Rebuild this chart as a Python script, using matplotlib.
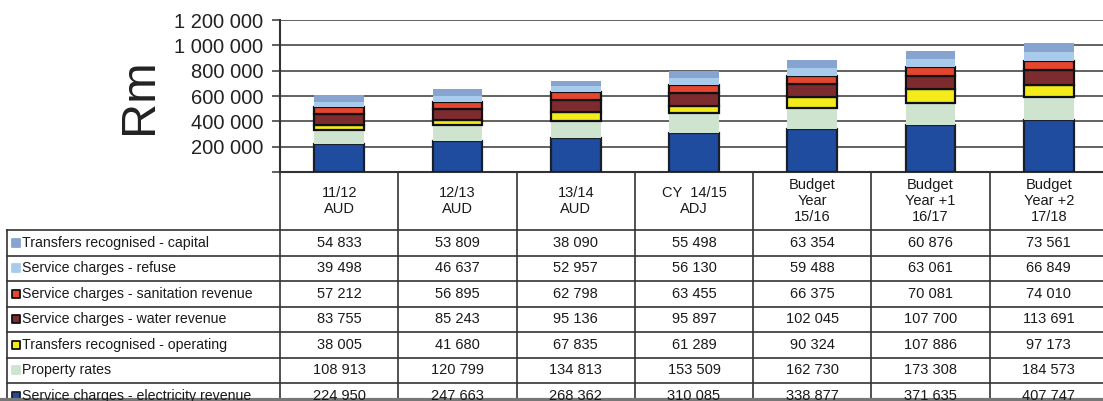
import numpy as np
import matplotlib
matplotlib.use('Agg')
from matplotlib import pyplot as plt

plt.rcParams['font.family'] = ['Liberation Sans', 'DejaVu Sans']

# Column headings (years)
years = ['11/12\nAUD', '12/13\nAUD', '13/14\nAUD', 'CY  14/15\nADJ',
         'Budget\nYear\n15/16', 'Budget\nYear +1\n16/17', 'Budget\nYear +2\n17/18']

# Series, bottom of the stack first
electricity = [224950, 247663, 268362, 310085, 338877, 371635, 407747]
property_rates = [108913, 120799, 134813, 153509, 162730, 173308, 184573]
transfers_operating = [38005, 41680, 67835, 61289, 90324, 107886, 97173]
water = [83755, 85243, 95136, 95897, 102045, 107700, 113691]
sanitation = [57212, 56895, 62798, 63455, 66375, 70081, 74010]
refuse = [39498, 46637, 52957, 56130, 59488, 63061, 66849]
transfers_capital = [54833, 53809, 38090, 55498, 63354, 60876, 73561]

stack = [
    ('Service charges - electricity revenue', electricity, '#1f4c9e', '#1a1f2e'),
    ('Property rates', property_rates, '#cfe4cf', 'none'),
    ('Transfers recognised - operating', transfers_operating, '#f4ec1a', '#111111'),
    ('Service charges - water revenue', water, '#7e2b30', '#111111'),
    ('Service charges - sanitation revenue', sanitation, '#e6462e', '#111111'),
    ('Service charges - refuse', refuse, '#a9cbeb', 'none'),
    ('Transfers recognised - capital', transfers_capital, '#86a4cf', 'none'),
]

W, H = 1103, 401
fig = plt.figure(figsize=(W / 100, H / 100), dpi=100)

# chart area in pixels
left, right, top, bottom = 280, 1108, 20, 172
ax = fig.add_axes([left / W, 1 - bottom / H, (right - left) / W, (bottom - top) / H])

x = np.arange(len(years))
base = np.zeros(len(years))
for name, vals, col, edge in stack:
    lw = 1.6 if edge != 'none' else 0
    ax.bar(x, vals, width=0.42, bottom=base, color=col, edgecolor=edge, linewidth=lw, zorder=3)
    base += np.array(vals)

ax.set_xlim(-0.5, len(years) - 0.5)
ax.set_ylim(0, 1200000)
yt = np.arange(0, 1200001, 200000)
ax.set_yticks(yt)
ax.set_yticklabels([''] + [f'{v:,}'.replace(',', ' ') for v in yt[1:]], fontsize=14.5, color='#222222')
ax.tick_params(axis='y', direction='out', length=6, width=1.2, color='#444444', pad=6)
ax.set_xticks(np.arange(len(years) + 1) - 0.5)
ax.set_xticklabels([])
ax.tick_params(axis='x', direction='out', length=0)
ax.yaxis.grid(True, color='#555555', linewidth=1.3, zorder=0)
for s in ['top', 'right']:
    ax.spines[s].set_visible(False)
ax.spines['left'].set_color('#333333')
ax.spines['left'].set_linewidth(1.5)
ax.spines['bottom'].set_color('#333333')
ax.spines['bottom'].set_linewidth(1.5)
ax.set_ylabel('Rm', fontsize=35, color='#222222')
ax.yaxis.set_label_coords(-0.142, 0.5)

# data table under the chart, drawn in pixel coordinates
tab = fig.add_axes([0, 0, 1, 1])
tab.set_xlim(0, W)
tab.set_ylim(H, 0)
tab.axis('off')

col_w = (right - left) / len(years)
head_bot = 230
row_h = 25.5
rows = stack[::-1]
n_rows = len(rows)
line_kw = dict(color='#333333', linewidth=1.2)

# header cells
tab.plot([left, left], [bottom, head_bot + row_h * n_rows], **line_kw)
for i in range(1, len(years) + 1):
    xx = left + col_w * i
    tab.plot([xx, xx], [bottom, head_bot + row_h * n_rows], **line_kw)
for i, lab in enumerate(years):
    tab.text(left + col_w * (i + 0.5), 201, lab, ha='center', va='center',
             fontsize=10.5, linespacing=1.15, color='#1a1a1a')

# rows
tab.plot([7, 7], [head_bot, head_bot + row_h * n_rows], **line_kw)
for r in range(n_rows + 1):
    yy = head_bot + row_h * r
    tab.plot([7, right], [yy, yy], **line_kw)
for r, (name, vals, col, edge) in enumerate(rows):
    yc = head_bot + row_h * (r + 0.5)
    ec = edge if edge != 'none' else col
    tab.scatter([16], [yc], marker='s', s=26, color=col, edgecolors=ec, linewidths=1.3)
    tab.text(22, yc, name, ha='left', va='center', fontsize=10.2, color='#1a1a1a')
    for i, v in enumerate(vals):
        tab.text(left + col_w * (i + 0.5), yc, f'{v:,}'.replace(',', ' '),
                 ha='center', va='center', fontsize=10.5, color='#1a1a1a')

tab.plot([0, W], [399.5, 399.5], color='#777777', linewidth=3)

fig.savefig('out.png', dpi=100)
